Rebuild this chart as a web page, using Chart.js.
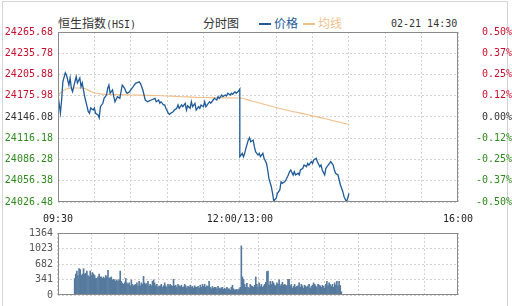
<!DOCTYPE html>
<html>
<head>
<meta charset="utf-8">
<script src="https://cdn.jsdelivr.net/npm/chart.js"></script>
<style>
  body { margin: 0; background: #fff; width: 512px; height: 306px; overflow: hidden; position: relative; }
  #frame { position: absolute; left: 2px; top: 1px; width: 504px; height: 320px; border: 1px solid #d4d4d4; }
  .t { position: absolute; top: 17px; line-height: 12px; color: #333; white-space: nowrap; }
  .cn { font-family: "Noto Sans CJK SC"; font-size: 12px; }
  .mono { font-family: "DejaVu Sans Mono"; font-size: 10px; }
  .dash { display: inline-block; width: 12px; height: 2px; vertical-align: middle; margin-right: 3px; position: relative; top: -1px; }
  canvas { position: absolute; left: 0; }
</style>
</head>
<body>
<div id="frame"></div>
<div class="t" style="left:58px"><span class="cn">恒生指数</span><span class="mono">(HSI)</span></div>
<div class="t cn" style="left:203px">分时图</div>
<div class="t cn" style="left:259px;color:#1f5a99"><span class="dash" style="background:#1f5a99"></span>价格</div>
<div class="t cn" style="left:303px;color:#efbf8a"><span class="dash" style="background:#efbf8a"></span>均线</div>
<div class="t mono" style="left:391px;top:18px">02-21 14:30</div>
<canvas id="main" width="512" height="228" style="top:0"></canvas>
<canvas id="vol" width="512" height="84" style="top:222px"></canvas>
<script>
// previous close and axis ticks
const prevClose = 24146.08;
const priceTicks = [24026.48, 24056.38, 24086.28, 24116.18, 24146.08, 24175.98, 24205.88, 24235.78, 24265.68];
const pctLabels = ['-0.50%', '-0.37%', '-0.25%', '-0.12%', '0.00%', '0.12%', '0.25%', '0.37%', '0.50%'];
const volTicks = [0, 341, 682, 1023, 1364];
const timeLabels = { 0: '09:30', 150: '12:00/13:00', 330: '16:00' };

// trading minutes since 09:30 (12:00 and 13:00 share minute 150)
const priceMin = [
  0, 2, 3, 4, 6, 7, 9, 10, 11, 12,
  13, 15, 16, 18, 19, 20, 22, 23, 25, 26,
  27, 29, 30, 31, 33, 34, 35, 37, 38, 40,
  41, 42, 43, 45, 46, 47, 49, 51, 52, 53,
  55, 56, 57, 59, 62, 64, 67, 68, 70, 72,
  74, 77, 80, 81, 83, 84, 85, 87, 88, 89,
  91, 92, 93, 95, 96, 98, 99, 100, 102, 103,
  105, 106, 107, 109, 110, 111, 113, 114, 116, 117,
  118, 120, 121, 122, 124, 125, 126, 128, 129, 131,
  132, 133, 135, 136, 138, 139, 140, 142, 143, 144,
  146, 147, 149, 150, 150, 152, 153, 154, 155, 157,
  158, 159, 161, 162, 163, 165, 166, 167, 169, 170,
  172, 173, 174, 176, 177, 178, 180, 181, 183, 184,
  185, 187, 188, 190, 191, 192, 194, 195, 196, 198,
  199, 200, 202, 203, 205, 206, 207, 209, 210, 211,
  213, 214, 216, 217, 218, 220, 221, 222, 224, 225,
  227, 228, 229, 231, 232, 233, 235, 236, 238, 239, 240
];
const priceVal = [
  24177.0, 24151.7, 24170.0, 24195.7, 24208.4, 24205.2, 24191.1, 24201.0, 24186.9, 24181.7,
  24188.7, 24202.8, 24193.9, 24201.0, 24188.7, 24193.9, 24174.7, 24167.6, 24153.5, 24151.3,
  24158.7, 24155.9, 24158.7, 24151.3, 24148.9, 24144.7, 24160.6, 24165.4, 24172.4, 24177.0,
  24186.5, 24191.1, 24179.4, 24184.1, 24174.7, 24167.6, 24174.7, 24172.4, 24181.7, 24191.1,
  24186.5, 24181.7, 24179.4, 24181.7, 24188.7, 24193.5, 24195.7, 24193.5, 24184.1, 24170.0,
  24167.6, 24170.0, 24172.4, 24167.6, 24170.0, 24165.4, 24167.6, 24163.0, 24163.0, 24158.3,
  24151.3, 24149.9, 24151.3, 24153.5, 24155.9, 24158.3, 24163.0, 24158.3, 24163.0, 24160.6,
  24165.4, 24155.9, 24162.0, 24158.3, 24167.6, 24160.6, 24165.4, 24155.9, 24160.6, 24158.3,
  24163.0, 24160.6, 24167.6, 24160.6, 24165.4, 24167.6, 24165.4, 24170.0, 24172.4, 24170.0,
  24174.7, 24172.4, 24177.0, 24174.7, 24177.0, 24175.6, 24179.4, 24177.0, 24179.4, 24178.0,
  24181.7, 24179.4, 24182.7, 24185.5, 24090.2, 24095.0, 24090.2, 24095.0, 24102.0, 24113.7,
  24116.9, 24111.3, 24113.7, 24104.3, 24097.3, 24092.6, 24095.0, 24090.2, 24095.0, 24088.0,
  24080.9, 24071.5, 24059.8, 24048.0, 24038.7, 24027.9, 24031.7, 24038.7, 24043.4, 24055.0,
  24052.8, 24055.0, 24057.4, 24064.5, 24069.1, 24071.5, 24064.5, 24069.1, 24064.5, 24066.9,
  24064.5, 24071.5, 24073.9, 24078.5, 24076.2, 24080.9, 24078.5, 24083.2, 24080.9, 24085.6,
  24088.0, 24083.2, 24076.2, 24078.5, 24071.5, 24064.5, 24073.9, 24076.2, 24080.9, 24083.2,
  24078.5, 24071.5, 24066.9, 24064.5, 24057.4, 24050.4, 24041.0, 24033.9, 24026.9, 24031.7, 24038.7
];

// average price line
const avgMin = [0, 5, 12, 20, 28, 36, 45, 60, 80, 100, 120, 150, 160, 175, 190, 205, 220, 240];
const avgVal = [24177.0, 24184.1, 24186.9, 24186.9, 24181.3, 24178.4, 24177.7, 24177.0, 24176.3,
  24174.9, 24173.5, 24172.8, 24168.6, 24161.6, 24155.2, 24149.6, 24144.0, 24135.5];

// volume per minute, minutes 0..240
const volume = [
  364, 462, 527, 429, 579, 559, 429, 462, 579, 462, 480,
  527, 429, 397, 527, 429, 494, 462, 429, 364, 364, 400,
  462, 397, 397, 364, 397, 364, 429, 397, 540, 364, 380,
  397, 332, 345, 332, 299, 332, 299, 332, 527, 299, 260,
  234, 267, 364, 267, 234, 267, 202, 332, 234, 202, 220,
  234, 267, 202, 299, 202, 267, 234, 410, 267, 234, 250,
  299, 202, 234, 202, 299, 332, 267, 202, 234, 169, 190,
  202, 234, 169, 202, 267, 202, 169, 234, 202, 234, 210,
  189, 345, 202, 215, 169, 234, 202, 189, 215, 169, 180,
  234, 202, 150, 189, 169, 215, 169, 189, 150, 202, 175,
  169, 189, 150, 215, 169, 234, 189, 234, 169, 202, 190,
  299, 169, 137, 189, 150, 169, 169, 137, 189, 150,
  137, 160, 169, 124, 150, 124, 169, 137, 137, 104,
  169, 215, 137, 104, 120, 124, 104, 137, 169,
  1079,
  397, 345, 234, 169, 254, 169, 150, 234, 202, 190,
  169, 215, 397, 234, 169, 267, 189, 234, 169, 200,
  234, 280, 514, 527, 215, 299, 234, 299, 267, 220,
  202, 267, 234, 332, 202, 234, 280, 215, 234, 210,
  202, 345, 345, 202, 234, 150, 189, 234, 169, 190,
  202, 267, 169, 234, 202, 150, 215, 189, 169, 200,
  234, 150, 189, 215, 267, 234, 202, 169, 234, 220,
  202, 169, 215, 189, 150, 234, 299, 202, 267, 230,
  189, 234, 169, 267, 215, 299, 202, 299, 210, 72
];

const RED = '#c8102e', GREEN = '#2f8a1e', DARK = '#333';
const monoFont = { family: 'DejaVu Sans Mono', size: 10 };
const gridDash = [2, 2];

// solid frame round the plot area
const frameBox = {
  id: 'frameBox',
  afterDraw(chart) {
    const a = chart.chartArea, ctx = chart.ctx;
    ctx.save();
    ctx.strokeStyle = '#8a8a8a';
    ctx.lineWidth = 1;
    ctx.strokeRect(Math.round(a.left) + 0.5, Math.round(a.top) + 0.5,
      Math.round(a.right - a.left) - 1, Math.round(a.bottom - a.top) - 1);
    ctx.restore();
  }
};

function timeAxis(showLabels) {
  return {
    type: 'linear', min: 0, max: 330,
    grid: { color: '#d2d2d2', drawTicks: false },
    border: { display: false, dash: gridDash },
    ticks: {
      display: showLabels, stepSize: 30, autoSkip: false, maxRotation: 0,
      padding: 11, color: '#222', font: monoFont,
      callback: v => timeLabels[v] || ''
    },
    afterFit: s => { s.height = showLabels ? 26 : 0; }
  };
}

new Chart(document.getElementById('main'), {
  type: 'line',
  data: {
    datasets: [{
      label: '价格',
      data: priceMin.map((m, i) => ({ x: m, y: priceVal[i] })),
      borderColor: '#1f5a99',
      borderWidth: 1.3,
      pointRadius: 0,
      tension: 0
    }, {
      label: '均线',
      data: avgMin.map((m, i) => ({ x: m, y: avgVal[i] })),
      borderColor: '#efbf8a',
      borderWidth: 1.2,
      pointRadius: 0,
      cubicInterpolationMode: 'monotone'
    }]
  },
  options: {
    responsive: false,
    animation: false,
    devicePixelRatio: 1,
    layout: { padding: { top: 32, left: 0, right: 0, bottom: 0 } },
    plugins: { legend: { display: false }, tooltip: { enabled: false } },
    scales: {
      x: timeAxis(true),
      y: {
        position: 'left',
        min: priceTicks[0], max: priceTicks[priceTicks.length - 1],
        afterBuildTicks: s => { s.ticks = priceTicks.map(v => ({ value: v })); },
        grid: { color: '#d2d2d2', drawTicks: false },
        border: { display: false, dash: gridDash },
        ticks: {
          padding: 5, font: monoFont,
          color: c => Math.abs(c.tick.value - prevClose) < 0.01 ? DARK : (c.tick.value > prevClose ? RED : GREEN),
          callback: v => v.toFixed(2)
        },
        afterFit: s => { s.width = 58; }
      },
      y2: {
        position: 'right',
        min: priceTicks[0], max: priceTicks[priceTicks.length - 1],
        afterBuildTicks: s => { s.ticks = priceTicks.map(v => ({ value: v })); },
        grid: { display: false, drawTicks: false },
        border: { display: false },
        ticks: {
          padding: 8, font: monoFont, crossAlign: 'far',
          color: c => Math.abs(c.tick.value - prevClose) < 0.01 ? DARK : (c.tick.value > prevClose ? RED : GREEN),
          callback: (v, i) => pctLabels[i]
        },
        afterFit: s => { s.width = 54; }
      }
    }
  },
  plugins: [frameBox]
});

new Chart(document.getElementById('vol'), {
  type: 'bar',
  data: {
    datasets: [{
      label: '成交量',
      data: volume.map((v, i) => ({ x: i, y: v })),
      backgroundColor: '#557a9e',
      barThickness: 1
    }]
  },
  options: {
    responsive: false,
    animation: false,
    devicePixelRatio: 1,
    layout: { padding: { top: 10, left: 0, right: 54, bottom: 4 } },
    plugins: { legend: { display: false }, tooltip: { enabled: false } },
    scales: {
      x: timeAxis(false),
      y: {
        min: 0, max: volTicks[volTicks.length - 1],
        afterBuildTicks: s => { s.ticks = volTicks.map(v => ({ value: v })); },
        grid: { color: '#d2d2d2', drawTicks: false },
        border: { display: false, dash: gridDash },
        ticks: { padding: 5, font: monoFont, color: '#555', callback: v => String(v) },
        afterFit: s => { s.width = 58; }
      }
    }
  },
  plugins: [frameBox]
});
</script>
</body>
</html>
